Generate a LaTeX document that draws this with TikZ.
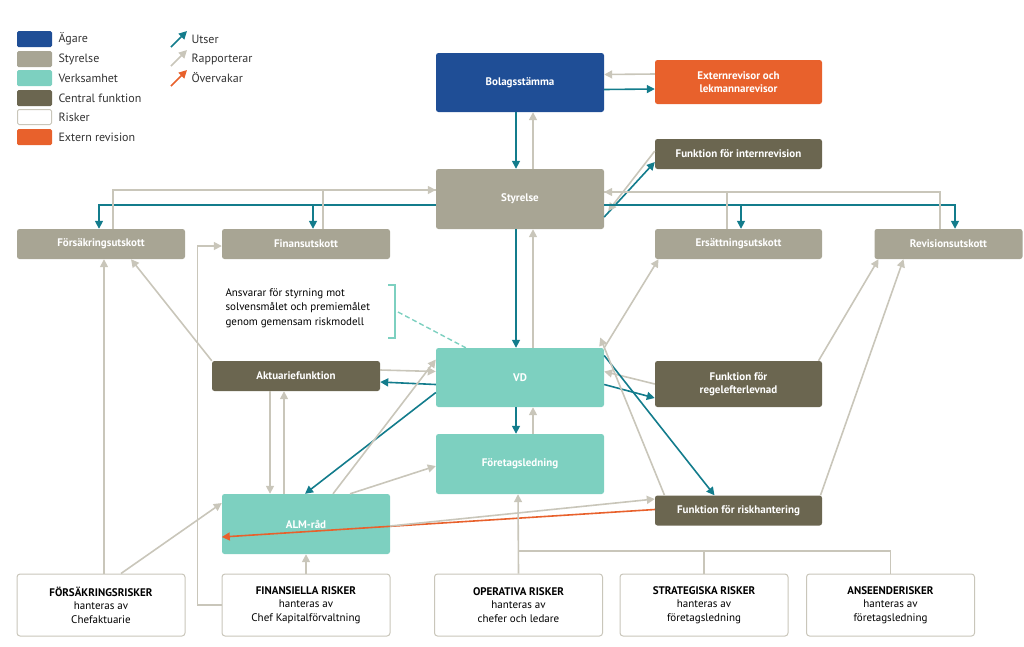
\documentclass[tikz,border=0pt]{standalone}
\usepackage{fontspec}
\setmainfont{PT Sans}
\usetikzlibrary{arrows.meta,calc}
\definecolor{cblue}{HTML}{1F4E96}
\definecolor{corange}{HTML}{E8612C}
\definecolor{colive}{HTML}{6B6650}
\definecolor{cgray}{HTML}{A8A594}
\definecolor{cteal}{HTML}{7DD0C0}
\definecolor{carr}{HTML}{137C8C}
\definecolor{cline}{HTML}{C9C6BA}
\begin{document}
\begin{tikzpicture}[x=1pt,y=-1pt,
 box/.style={rounded corners=2.5pt,inner sep=1pt,align=center,text=white,font=\fontsize{11}{13}\selectfont\bfseries},
 rbox/.style={rounded corners=3pt,draw=cline,line width=1pt,fill=white,align=center,minimum width=168pt,minimum height=62pt,font=\fontsize{11}{13.5}\selectfont},
 ut/.style={draw=carr,line width=1.6pt,-{Triangle[length=8pt,width=8pt]}},
 rap/.style={draw=cline,line width=1.6pt,-{Triangle[length=8pt,width=8pt]}},
 rapn/.style={draw=cline,line width=1.6pt},
 ov/.style={draw=corange,line width=1.6pt,-{Triangle[length=8pt,width=8pt]}},
 leg/.style={anchor=west,font=\fontsize{12}{14}\selectfont,text=black!80}]
\useasboundingbox (0,0) rectangle (1024,646);
% legend
\foreach \c/\t/\y in {cblue/Ägare/39,cgray/Styrelse/59,cteal/Verksamhet/78,colive/Central funktion/98,white/Risker/117,corange/Extern revision/137}{
 \fill[\c,rounded corners=1.5pt] (17,\y-8) rectangle (52,\y+8);
 \node[leg] (l\y) at (55,\y) {\t};}
\draw[cline,line width=1pt,rounded corners=1.5pt] (17.5,109.5) rectangle (51.5,124.5);
\coordinate (a1) at (171,47); \coordinate (a2) at (187,31);
\draw[ut] (a1) -- (a2); \node[leg] (lu) at (188,39) {Utser};
\coordinate (b1) at (171,66); \coordinate (b2) at (187,50);
\draw[rap] (b1) -- (b2); \node[leg] (lr) at (188,59) {Rapporterar};
\coordinate (c1) at (171,86); \coordinate (c2) at (187,70);
\draw[ov] (c1) -- (c2); \node[leg] (lo) at (188,78) {Övervakar};
% nodes
\node[box,fill=cblue,minimum width=168pt,minimum height=59pt] (bol) at (520,82.5) {Bolagsstämma};
\node[box,fill=corange,minimum width=167pt,minimum height=44pt] (ext) at (738.5,82) {Externrevisor och\\lekmannarevisor};
\node[box,fill=colive,minimum width=167pt,minimum height=30pt] (int) at (738.5,154) {Funktion för internrevision};
\node[box,fill=cgray,minimum width=168pt,minimum height=60pt] (sty) at (520,199) {Styrelse};
\node[box,fill=cgray,minimum width=168pt,minimum height=30pt] (fors) at (101,244) {Försäkringsutskott};
\node[box,fill=cgray,minimum width=168pt,minimum height=30pt] (fin) at (306,244) {Finansutskott};
\node[box,fill=cgray,minimum width=167pt,minimum height=30pt] (ers) at (738.5,244) {Ersättningsutskott};
\node[box,fill=cgray,minimum width=148pt,minimum height=30pt] (rev) at (948.5,244) {Revisionsutskott};
\node[align=left,anchor=west,font=\fontsize{11}{14.5}\selectfont] (ann) at (222,308) {Ansvarar för styrning mot\\solvensmålet och premiemålet\\genom gemensam riskmodell};
\node[box,fill=colive,minimum width=168pt,minimum height=30pt] (akt) at (296,376) {Aktuariefunktion};
\node[box,fill=cteal,minimum width=168pt,minimum height=59pt] (vd) at (520,377.5) {VD};
\node[box,fill=colive,minimum width=167pt,minimum height=46pt] (reg) at (738.5,384) {Funktion för\\regelefterlevnad};
\node[box,fill=cteal,minimum width=168pt,minimum height=60pt] (fl) at (520,464) {Företagsledning};
\node[box,fill=colive,minimum width=167pt,minimum height=30pt] (risk) at (738.5,510.5) {Funktion för riskhantering};
\node[box,fill=cteal,minimum width=168pt,minimum height=60pt] (alm) at (306,524) {ALM-råd};
\node[rbox] (r1) at (101,605) {\textbf{FÖRSÄKRINGSRISKER}\\hanteras av\\Chefaktuarie};
\node[rbox] (r2) at (306,605) {\textbf{FINANSIELLA RISKER}\\hanteras av\\Chef Kapitalförvaltning};
\node[rbox] (r3) at (518.5,605) {\textbf{OPERATIVA RISKER}\\hanteras av\\chefer och ledare};
\node[rbox] (r4) at (704,605) {\textbf{STRATEGISKA RISKER}\\hanteras av\\företagsledning};
\node[rbox] (r5) at (890.5,605) {\textbf{ANSEENDERISKER}\\hanteras av\\företagsledning};
% bracket
\coordinate (br1) at (388,285); \coordinate (br2) at (395,285); \coordinate (br3) at (395,338); \coordinate (br4) at (388,338);
\draw[cteal,line width=1.2pt] (br1) -- (br2) -- (br3) -- (br4);
\coordinate (bm) at (398,312);
\draw[cteal,line width=1.4pt,dash pattern=on 5pt off 3pt] (bm) -- ([xshift=30pt]vd.north west);
% top
\draw[ut] ([xshift=-4]bol.south) -- ([xshift=-4]sty.north);
\draw[rap] ([xshift=13]sty.north) -- ([xshift=13]bol.south);
\draw[ut] ([yshift=-7]bol.east) -- ([yshift=-7]ext.west);
\draw[rap] ([yshift=8]ext.west) -- ([yshift=8]bol.east);
\draw[ut] ([yshift=-18]sty.east) -- ([yshift=-8]int.west);
\draw[rap] ([yshift=3]int.west) -- ([yshift=-12,xshift=4]sty.east);
% committees
\draw[ut] ([yshift=-6]sty.west) -| ([xshift=-2]fors.north);
\draw[ut] ([yshift=-6]sty.west) -| ([xshift=7]fin.north);
\draw[rapn] ([xshift=12]fors.north) |- ([yshift=9]sty.west);
\draw[rap] ([xshift=17]fin.north) |- ([yshift=9]sty.west);
\draw[ut] ([yshift=-6]sty.east) -| ([xshift=6.5]rev.north);
\draw[ut] ([yshift=-6]sty.east) -| ([xshift=2.5]ers.north);
\draw[rapn] ([xshift=-8.5]rev.north) |- ([yshift=7]sty.east);
\draw[rap] ([xshift=-11.5]ers.north) |- ([yshift=7]sty.east);
% styrelse - VD
\draw[ut] ([xshift=-4]sty.south) -- ([xshift=-4]vd.north);
\draw[rap] ([xshift=13]vd.north) -- ([xshift=13]sty.south);
\draw[ut] ([yshift=-7]vd.west) -- ([yshift=-6]akt.east);
\draw[rap] ([yshift=6]akt.east) -- ([yshift=6]vd.west);
\draw[ut] ([yshift=-7]vd.east) -- ([yshift=-14]reg.west);
\draw[rap] ([yshift=0]reg.west) -- ([yshift=6]vd.east);
\draw[ut] ([xshift=-4]vd.south) -- ([xshift=-4]fl.north);
\draw[rap] ([xshift=13]fl.north) -- ([xshift=13]vd.south);
\draw[ut] ([yshift=-15]vd.west) -- ([xshift=-1]alm.north);
\draw[rap] ([xshift=27]alm.north) -- ([yshift=18]vd.west);
\draw[rap] ([xshift=44]alm.north) -- ([yshift=-2]fl.west);
\draw[rap] ([xshift=-26]akt.south) -- ([xshift=-36]alm.north);
\draw[rap] ([xshift=-22]alm.north) -- ([xshift=-12]akt.south);
\draw[ut] ([yshift=22]vd.east) -- ([xshift=-24]risk.north);
\draw[rap] ([xshift=-74]risk.north) -- ([yshift=40,xshift=-4]vd.east);
\draw[ov] ([yshift=1]risk.west) -- ([yshift=-13]alm.west|-alm.east);
\draw[rap] ([yshift=-2]alm.east) -- ([yshift=11.5]risk.west);
% to committees
\draw[rap] ([xshift=82]risk.north) -- ([xshift=-45]rev.south);
\draw[rap] ([xshift=80]reg.north) -- ([xshift=-70]rev.south);
\draw[rap] (vd.north east) -- ([xshift=-80]ers.south);
\draw[rap] (akt.north west) -- ([xshift=30]fors.south);
% risks
\draw[rap] ([xshift=3]r1.north) -- ([xshift=3]fors.south);
\draw[rap] ([xshift=20]r1.north) -- ([yshift=21]alm.west);
\draw[rap] (r2.west) -- ++(-24,0) |- ([yshift=-2]fin.west);
\draw[rap] (r2.north) -- (alm.south);
\draw[rap] (r3.north) -- ([xshift=-2]fl.south);
\coordinate (h1) at (518.5,551);
\draw[rapn] (h1) -| (r4.north);
\draw[rapn] (h1) -| (r5.north);
\end{tikzpicture}
\end{document}
